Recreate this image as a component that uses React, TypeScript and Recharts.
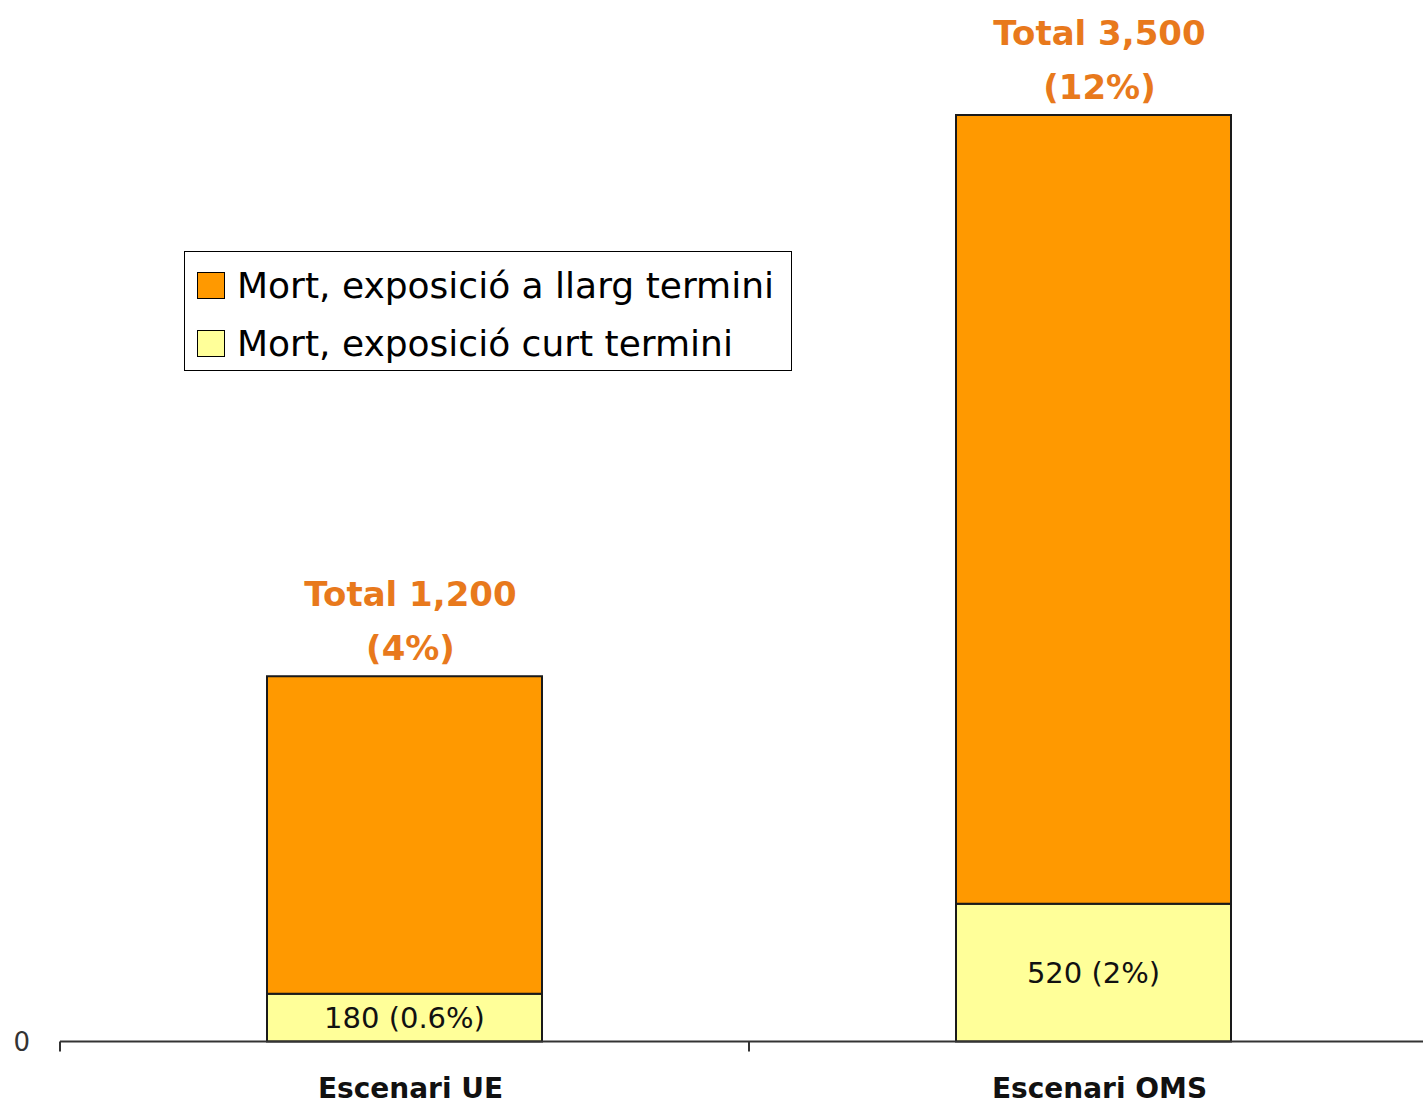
import React from "react";
import { BarChart, Bar, XAxis, YAxis, Legend, LabelList } from "recharts";

const categories = ["Escenari UE", "Escenari OMS"];
const shortTerm = [180, 520];
const longTerm = [1200, 2980];
const shortLabels = ["180 (0.6%)", "520 (2%)"];
const totalLabels = ["Total 1,200", "Total 3,500"];
const totalPct = ["(4%)", "(12%)"];
const seriesNames = ["Mort, exposició curt termini", "Mort, exposició a llarg termini"];
const yTicks = [0];

const data = categories.map((name, i) => ({
  name,
  short: shortTerm[i],
  long: longTerm[i],
}));

const W = 1440;
const H = 1105;
const MARGIN = { top: 115, right: 2, bottom: 3.5, left: 0 };
const Y_W = 60;
const X_H = 60;
const FONT = "'DejaVu Sans', sans-serif";
const ORANGE = "#FF9900";
const YELLOW = "#FFFF99";
const LABEL_ORANGE = "#E8791C";

const halfBand = (W - MARGIN.left - MARGIN.right - Y_W) / categories.length / 2;

const XTick = (props: any) => {
  const { x, y, payload } = props;
  return (
    <g>
      <line x1={x - halfBand} x2={x - halfBand} y1={y} y2={y + 10} stroke="#333" strokeWidth={2} />
      <text x={x + 6} y={y + 56} textAnchor="middle" fontFamily={FONT} fontWeight="bold" fontSize={28} fill="#111">
        {payload.value}
      </text>
    </g>
  );
};

const TotalLabel = (props: any) => {
  const { x, y, width, index } = props;
  const cx = x + width / 2 + 6;
  return (
    <g>
      <text x={cx} y={y - 70} textAnchor="middle" fontFamily={FONT} fontWeight="bold" fontSize={34} fill={LABEL_ORANGE}>
        {totalLabels[index]}
      </text>
      <text x={cx} y={y - 16} textAnchor="middle" fontFamily={FONT} fontWeight="bold" fontSize={34} fill={LABEL_ORANGE}>
        {totalPct[index]}
      </text>
    </g>
  );
};

const ShortLabel = (props: any) => {
  const { x, y, width, height, index } = props;
  return (
    <text x={x + width / 2} y={y + height / 2} textAnchor="middle" dominantBaseline="central" fontFamily={FONT} fontSize={29} fill="#111">
      {shortLabels[index]}
    </text>
  );
};

// long-term first, like the original legend
const LegendBox = (props: any) => {
  const items = [...(props.payload || [])].sort((a: any, b: any) =>
    a.dataKey === "long" ? -1 : b.dataKey === "long" ? 1 : 0
  );
  return (
    <div
      style={{
        boxSizing: "border-box",
        width: 608,
        height: 120,
        border: "1.5px solid #000",
        background: "#fff",
        paddingTop: 4,
        paddingLeft: 12,
      }}
    >
      {items.map((it: any) => (
        <div key={it.value} style={{ height: 58, display: "flex", alignItems: "center" }}>
          <span
            style={{
              display: "inline-block",
              boxSizing: "border-box",
              width: 28,
              height: 27,
              background: it.color,
              border: "1.5px solid #000",
              marginRight: 12,
            }}
          />
          <span style={{ fontFamily: FONT, fontSize: 36, color: "#000", whiteSpace: "nowrap" }}>{it.value}</span>
        </div>
      ))}
    </div>
  );
};

export default function App() {
  return (
    <div style={{ position: "fixed", left: 0, top: 0, width: "100vw", height: "100vh", overflow: "hidden", background: "#fff" }}>
      <BarChart width={W} height={H} data={data} margin={MARGIN} barSize={275}>
        <YAxis
          width={Y_W}
          domain={[0, 3500]}
          ticks={yTicks}
          axisLine={false}
          tickLine={false}
          tickSize={0}
          tickMargin={30}
          tick={{ fontFamily: FONT, fontSize: 26, fill: "#333" }}
        />
        <XAxis
          dataKey="name"
          height={X_H}
          axisLine={{ stroke: "#333", strokeWidth: 2 }}
          tickLine={false}
          tickSize={0}
          tickMargin={0}
          interval={0}
          tick={<XTick />}
        />
        <Legend
          layout="horizontal"
          verticalAlign="middle"
          align="center"
          content={<LegendBox />}
          wrapperStyle={{ left: 184, top: 251, width: 608, height: 120 }}
        />
        <Bar dataKey="short" name={seriesNames[0]} stackId="a" fill={YELLOW} stroke="#1a1a1a" strokeWidth={2} isAnimationActive={false}>
          <LabelList dataKey="short" content={<ShortLabel />} />
        </Bar>
        <Bar dataKey="long" name={seriesNames[1]} stackId="a" fill={ORANGE} stroke="#1a1a1a" strokeWidth={2} isAnimationActive={false}>
          <LabelList dataKey="long" content={<TotalLabel />} />
        </Bar>
      </BarChart>
    </div>
  );
}
